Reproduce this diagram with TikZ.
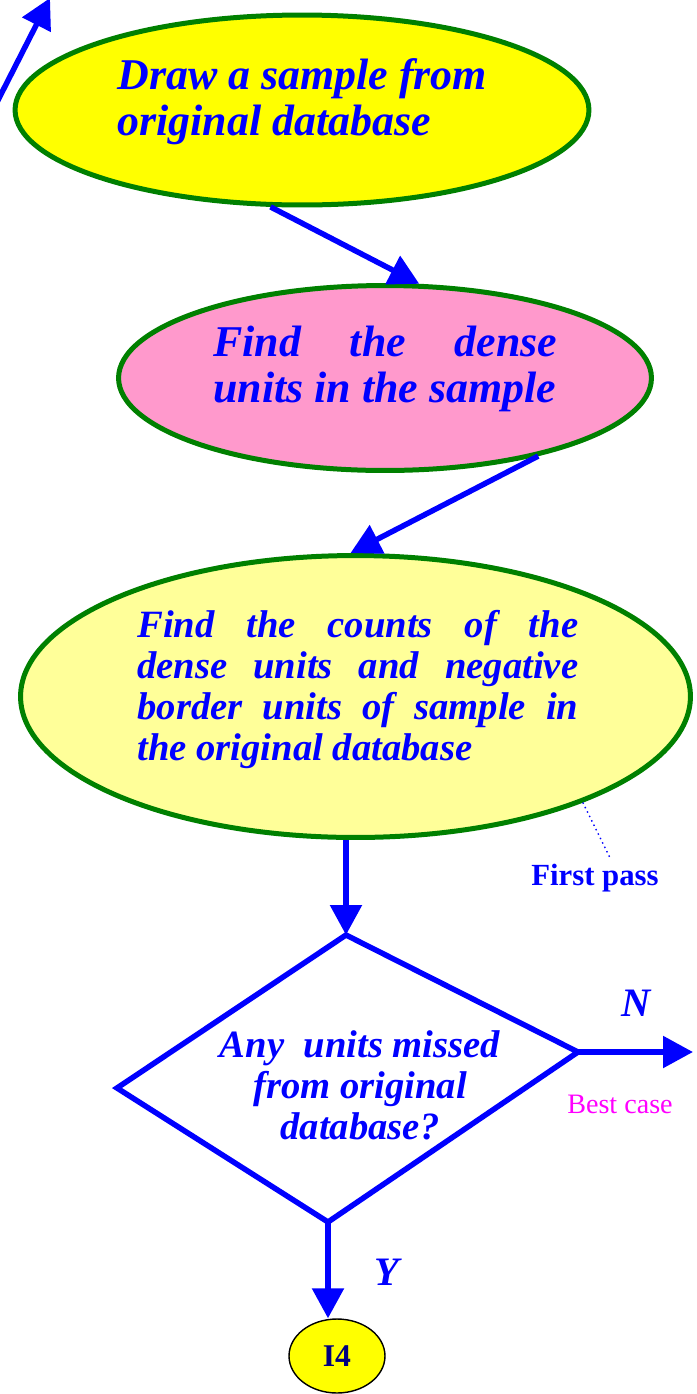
\documentclass[tikz,border=0pt]{standalone}
\usepackage{fontspec}
\setmainfont{Liberation Serif}
\usepackage{tikz}
\usetikzlibrary{arrows.meta, shapes.geometric}
\definecolor{darkgreen}{HTML}{008000}
\definecolor{pinkfill}{HTML}{FF99CC}
\definecolor{paleyellow}{HTML}{FFFF99}
\definecolor{brightyellow}{HTML}{FFFF00}
\definecolor{navytext}{HTML}{000080}
\definecolor{pureblue}{HTML}{0000FF}
\definecolor{puremagenta}{HTML}{FF00FF}
\newcommand{\bigbi}{\fontsize{25}{26.2}\selectfont\bfseries\itshape}
\newcommand{\midbi}{\fontsize{22}{23.3}\selectfont\bfseries\itshape}

\begin{document}
\begin{tikzpicture}[x=0.02cm, y=-0.02cm,
    bubble/.style={ellipse, draw=darkgreen, line width=0.1cm, inner sep=0pt},
    flow/.style={draw=pureblue, line width=0.11cm, -{Triangle[length=0.6cm, width=0.62cm]}},
    words/.style={text=pureblue, inner sep=0pt, align=left}]
    \useasboundingbox (0, 0) rectangle (697, 1394);

    % process steps
    \node[bubble, fill=brightyellow, minimum width=11.48cm, minimum height=3.8cm] at (302, 110) (e1) {};
    \node[bubble, fill=pinkfill, minimum width=10.66cm, minimum height=3.7cm] at (385, 378) (e2) {};
    \node[bubble, fill=paleyellow, minimum width=13.4cm, minimum height=5.64cm] at (355.5, 696.5) (e3) {};

    \node[words, anchor=north west, font=\bigbi] at (117, 58) (t1) {Draw a sample from\\original database};
    \node[words, anchor=north west, font=\bigbi] at (213, 326) (t2) {\hbox to 6.88cm{Find\hfill the\hfill dense}\\units in the sample};
    \node[words, anchor=north west, font=\midbi] at (137, 610) (t3) {\hbox to 8.82cm{Find\hfill the\hfill counts\hfill of\hfill the}\\
        \hbox to 8.82cm{dense\hfill units\hfill and\hfill negative}\\
        \hbox to 8.82cm{border\hfill units\hfill of\hfill sample\hfill in}\\
        the original database};

    % decision
    \coordinate (dT) at (346, 935);
    \coordinate (dR) at (578, 1052);
    \coordinate (dB) at (328, 1222);
    \coordinate (dL) at (117, 1088);
    \draw[pureblue, line width=0.11cm, line join=miter] (dT) -- (dR) -- (dB) -- (dL) -- cycle;
    \node[words, anchor=north, align=center, font=\midbi] at (360, 1030) (q) {Any~ units missed\\from original\\database?};

    \node[ellipse, draw=black, fill=brightyellow, line width=0.8pt, minimum width=1.92cm, minimum height=1.48cm,
          text=navytext, font=\fontsize{18}{20}\selectfont\bfseries] at (337, 1356) (i4) {I4};

    % labels
    \node[text=pureblue, font=\fontsize{23}{25}\selectfont\bfseries\itshape] at (636, 1003) (nlab) {N};
    \node[text=pureblue, font=\fontsize{23}{25}\selectfont\bfseries\itshape] at (387, 1272) (ylab) {Y};
    \node[text=puremagenta, font=\fontsize{16}{18}\selectfont] at (620, 1104) (best) {Best case};
    \node[text=pureblue, font=\fontsize{17.5}{20}\selectfont\bfseries] at (595, 878) (fp) {First pass};

    % connectors
    \coordinate (inA) at (-6, 108);
    \coordinate (inB) at (50, -2);
    \coordinate (nOut) at (693, 1052);
    \draw[flow] (inA) -- (inB);
    \draw[flow] (e1.-108) -- (e2.70);
    \draw[flow] (e2.-27) -- (e3.92);
    \draw[flow] (e3.south -| dT) -- (dT);
    \draw[flow] (dR) -- (nOut);
    \draw[flow] (dB) -- (dB |- i4.north);
    \draw[pureblue, dotted, line width=0.8pt] (e3.-25) -- ([xshift=0.3cm]fp.north);
\end{tikzpicture}
\end{document}
